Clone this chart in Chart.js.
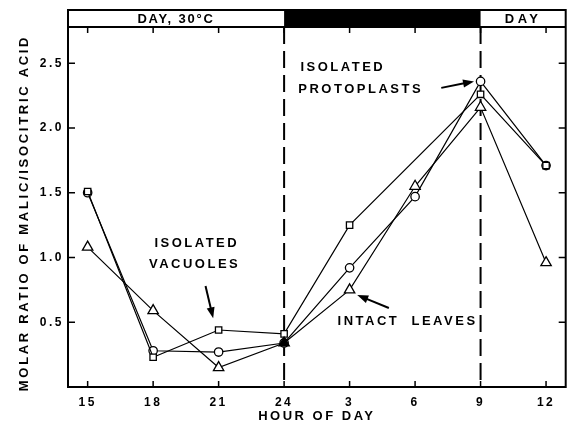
<!DOCTYPE html>
<html>
<head>
<meta charset="utf-8">
<script src="https://cdn.jsdelivr.net/npm/chart.js@4"></script>
<style>
  html, body { margin: 0; padding: 0; background: #fff; }
  #wrap { width: 573px; height: 424px; }
</style>
</head>
<body>
<div id="wrap"><canvas id="chart" width="573" height="424"></canvas></div>
<script>
// Hours run on past midnight (3 = 27, 6 = 30 ...) so the axis stays linear.
const HOURS = [15, 18, 21, 24, 27, 30, 33, 36];
const HOUR_LABELS = ['15', '18', '21', '24', '3', '6', '9', '12'];
const Y_TICKS = [0.5, 1.0, 1.5, 2.0, 2.5];
const Y_TICK_LABELS = ['0.5', '1.0', '1.5', '2.0', '2.5'];

// molar ratio malic / isocitric acid
const VACUOLES = [1.51, 0.23, 0.44, 0.41, 1.25, null, 2.26, 1.71];   // squares
const PROTOPLASTS = [1.50, 0.28, 0.27, 0.34, 0.92, 1.47, 2.36, 1.71]; // circles
const LEAVES = [1.08, 0.59, 0.15, 0.34, 0.75, 1.55, 2.16, 0.96];      // triangles

const NIGHT = [24, 33]; // dark period, hours
const Y_TITLE = 'MOLAR RATIO OF MALIC/ISOCITRIC ACID';

const FONT = '"Liberation Sans", Arial, sans-serif';

function points(vals) {
  return vals.map((v, i) => ({ x: HOURS[i], y: v }));
}

function series(label, vals, style, radius, order, fill) {
  return {
    label,
    data: points(vals),
    order,
    borderColor: '#000',
    borderWidth: 1.2,
    pointStyle: style,
    pointRadius: radius,
    pointBorderWidth: 1.3,
    pointBorderColor: '#000',
    pointBackgroundColor: fill || '#fff',
    spanGaps: true,
    tension: 0
  };
}

function arrow(ctx, x1, y1, x2, y2) {
  const ang = Math.atan2(y2 - y1, x2 - x1);
  const hl = 11, hw = 4;
  ctx.beginPath();
  ctx.lineWidth = 2;
  ctx.moveTo(x1, y1);
  ctx.lineTo(x2 - Math.cos(ang) * hl * 0.8, y2 - Math.sin(ang) * hl * 0.8);
  ctx.stroke();
  ctx.beginPath();
  ctx.moveTo(x2, y2);
  ctx.lineTo(x2 - Math.cos(ang) * hl + Math.sin(ang) * hw, y2 - Math.sin(ang) * hl - Math.cos(ang) * hw);
  ctx.lineTo(x2 - Math.cos(ang) * hl - Math.sin(ang) * hw, y2 - Math.sin(ang) * hl + Math.cos(ang) * hw);
  ctx.closePath();
  ctx.fill();
}

// spaced-out lettering like the typeset original
const spacing = {
  id: 'spacing',
  beforeDraw(chart) { chart.ctx.letterSpacing = '2.5px'; }
};

const nightLines = {
  id: 'nightLines',
  beforeDatasetsDraw(chart) {
    const { ctx, chartArea: a, scales: { x } } = chart;
    ctx.save();
    ctx.strokeStyle = '#000';
    ctx.lineWidth = 2;
    ctx.setLineDash([17, 7]);
    NIGHT.forEach(h => {
      const px = x.getPixelForValue(h);
      ctx.beginPath();
      ctx.moveTo(px, a.top);
      ctx.lineTo(px, a.bottom);
      ctx.stroke();
    });
    ctx.restore();
  }
};

const frame = {
  id: 'frame',
  afterDraw(chart) {
    const { ctx, chartArea: a, scales: { x, y } } = chart;
    const headH = 17;
    const headTop = a.top - headH;
    const xn = x.getPixelForValue(NIGHT[0]);
    const xe = x.getPixelForValue(NIGHT[1]);
    ctx.save();
    ctx.fillStyle = '#000';
    ctx.strokeStyle = '#000';
    ctx.fillRect(xn, headTop, xe - xn, headH);
    ctx.lineWidth = 2;
    ctx.strokeRect(a.left, headTop, a.right - a.left, a.bottom - headTop);
    ctx.beginPath();
    ctx.moveTo(a.left, a.top);
    ctx.lineTo(a.right, a.top);
    ctx.stroke();

    // inward tick marks on all four sides
    ctx.lineWidth = 1.5;
    ctx.beginPath();
    HOURS.forEach(h => {
      const px = x.getPixelForValue(h);
      ctx.moveTo(px, a.bottom); ctx.lineTo(px, a.bottom - 6);
      ctx.moveTo(px, a.top); ctx.lineTo(px, a.top + 6);
    });
    Y_TICKS.forEach(v => {
      const py = y.getPixelForValue(v);
      ctx.moveTo(a.left, py); ctx.lineTo(a.left + 7, py);
      ctx.moveTo(a.right, py); ctx.lineTo(a.right - 7, py);
    });
    ctx.stroke();

    // y axis title
    ctx.font = 'bold 13px ' + FONT;
    ctx.textAlign = 'center';
    ctx.textBaseline = 'middle';
    ctx.letterSpacing = '2.7px';
    ctx.save();
    ctx.translate(24, (a.top + a.bottom) / 2 + 6);
    ctx.rotate(-Math.PI / 2);
    ctx.fillText(Y_TITLE, 0, 0);
    ctx.restore();

    // header band texts
    ctx.letterSpacing = '1.8px';
    ctx.fillText('DAY, 30°C', (a.left + xn) / 2, headTop + headH / 2 + 1);
    ctx.letterSpacing = '3.5px';
    ctx.fillText('DAY', (xe + a.right) / 2, headTop + headH / 2 + 1);

    // curve labels
    ctx.letterSpacing = '2.5px';
    ctx.fillText('ISOLATED', x.getPixelForValue(20.0), y.getPixelForValue(1.11));
    ctx.fillText('VACUOLES', x.getPixelForValue(19.9), y.getPixelForValue(0.95));
    ctx.textAlign = 'left';
    ctx.fillText('ISOLATED', x.getPixelForValue(24.75), y.getPixelForValue(2.47));
    ctx.fillText('PROTOPLASTS', x.getPixelForValue(24.65), y.getPixelForValue(2.30));
    ctx.fillText('INTACT  LEAVES', x.getPixelForValue(26.45), y.getPixelForValue(0.51));

    arrow(ctx, x.getPixelForValue(20.4), y.getPixelForValue(0.78),
               x.getPixelForValue(20.75), y.getPixelForValue(0.53));
    arrow(ctx, x.getPixelForValue(31.2), y.getPixelForValue(2.31),
               x.getPixelForValue(32.7), y.getPixelForValue(2.36));
    arrow(ctx, x.getPixelForValue(28.8), y.getPixelForValue(0.61),
               x.getPixelForValue(27.35), y.getPixelForValue(0.71));
    ctx.restore();
  }
};

// the triangle at 24 h sits on top of a circle and prints solid in the original
const leafFill = LEAVES.map((v, i) => (HOURS[i] === 24 ? '#000' : '#fff'));

new Chart(document.getElementById('chart'), {
  type: 'line',
  data: {
    datasets: [
      series('Isolated vacuoles', VACUOLES, 'rect', 4.5, 1),
      series('Isolated protoplasts', PROTOPLASTS, 'circle', 4.2, 2),
      series('Intact leaves', LEAVES, 'triangle', 6, 0, leafFill)
    ]
  },
  options: {
    responsive: false,
    animation: false,
    layout: { padding: { left: 0, right: 5, top: 27, bottom: 0 } },
    plugins: { legend: { display: false }, tooltip: { enabled: false } },
    scales: {
      x: {
        type: 'linear',
        min: 14.1,
        max: 36.9,
        afterBuildTicks: s => { s.ticks = HOURS.map(v => ({ value: v })); },
        afterFit: s => { s.height = 37; },
        grid: { display: false, drawTicks: false },
        border: { display: false },
        ticks: {
          padding: 8,
          color: '#000',
          font: { family: FONT, size: 12, weight: 'bold' },
          callback: v => HOUR_LABELS[HOURS.indexOf(v)]
        },
        title: {
          display: true,
          text: 'HOUR OF DAY',
          color: '#000',
          padding: { top: 0, bottom: 0 },
          font: { family: FONT, size: 13, weight: 'bold' }
        }
      },
      y: {
        min: 0,
        max: 2.78,
        afterBuildTicks: s => { s.ticks = Y_TICKS.map(v => ({ value: v })); },
        afterFit: s => { s.width = 68; },
        grid: { display: false, drawTicks: false },
        border: { display: false },
        ticks: {
          padding: 4,
          color: '#000',
          font: { family: FONT, size: 12, weight: 'bold' },
          callback: v => Y_TICK_LABELS[Y_TICKS.indexOf(v)]
        }
      }
    }
  },
  plugins: [spacing, nightLines, frame]
});
</script>
</body>
</html>
